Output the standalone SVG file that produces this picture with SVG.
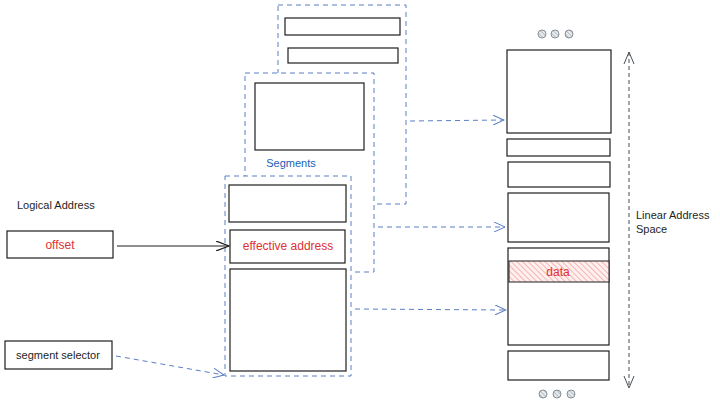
<svg xmlns="http://www.w3.org/2000/svg" width="720" height="404" viewBox="0 0 720 404">
<defs>
<pattern id="hatchRed" patternUnits="userSpaceOnUse" width="4" height="4" patternTransform="rotate(-45)">
<rect width="4" height="4" fill="#fff0f0"/>
<line x1="0" y1="0" x2="0" y2="4" stroke="#f08c8c" stroke-width="1.2"/>
</pattern>
<pattern id="hatchGray" patternUnits="userSpaceOnUse" width="3" height="3" patternTransform="rotate(-45)">
<rect width="3" height="3" fill="#e9ecef"/>
<line x1="0" y1="0" x2="0" y2="3" stroke="#868e96" stroke-width="1"/>
</pattern>
<marker id="arrBlue" markerWidth="12" markerHeight="10" refX="11" refY="5" orient="auto" markerUnits="userSpaceOnUse">
<path d="M0,0 L11,5 L0,10" fill="none" stroke="#5b7fc4" stroke-width="1"/>
</marker>
<marker id="arrBlack" markerWidth="14" markerHeight="10" refX="13" refY="5" orient="auto" markerUnits="userSpaceOnUse">
<path d="M0,0 L13,5 L0,10" fill="none" stroke="#1e1e1e" stroke-width="1.2"/>
</marker>
<marker id="arrGray" markerWidth="10" markerHeight="14" refX="5" refY="1" orient="auto-start-reverse" markerUnits="userSpaceOnUse">
<path d="M0,13 L5,1 L10,13" fill="none" stroke="#495057" stroke-width="1" transform="rotate(0)"/>
</marker>
</defs>
<style>
.box{fill:#ffffff;stroke:#1e1e1e;stroke-width:1.2}
.frame{fill:#ffffff;stroke:#5b7fc4;stroke-width:1;stroke-dasharray:5 4}
.t{font-family:"Liberation Sans",Arial,sans-serif;font-size:11px;fill:#1e1e1e}
.red{fill:#e03131;font-size:12px}
.blue{fill:#1c5fb8}
.conn{fill:none;stroke:#5b7fc4;stroke-width:1;stroke-dasharray:5 4}
.dot{fill:url(#hatchGray);stroke:#868e96;stroke-width:1}
</style>

<g id="segment-back">
<rect class="frame" x="278" y="5" width="128" height="199"/>
<rect class="box" x="285" y="18" width="115" height="17"/>
<rect class="box" x="288" y="48" width="110" height="15"/>
</g>
<g id="segment-middle">
<rect class="frame" x="245" y="73" width="129" height="199"/>
<rect class="box" x="255" y="83" width="109" height="67"/>
<text class="t blue" x="291" y="167" text-anchor="middle">Segments</text>
</g>
<g id="segment-front">
<rect class="frame" x="225" y="176" width="126" height="200"/>
<rect class="box" x="229" y="185" width="117" height="37"/>
<rect class="box" x="230" y="230" width="115" height="33"/>
<text class="t red" x="288" y="250" text-anchor="middle">effective address</text>
<rect class="box" x="230" y="269" width="116" height="102"/>
</g>

<g id="logical-address">
<text class="t" x="17" y="209">Logical Address</text>
</g>
<g id="offset">
<rect class="box" x="7" y="231" width="106" height="27"/>
<text class="t red" x="60" y="249" text-anchor="middle">offset</text>
</g>
<g id="segment-selector">
<rect class="box" x="5" y="341" width="107" height="28"/>
<text class="t" x="58" y="359" text-anchor="middle">segment selector</text>
</g>

<g id="linear-space">
<circle class="dot" cx="542" cy="34" r="4"/>
<circle class="dot" cx="555" cy="34" r="4"/>
<circle class="dot" cx="569" cy="34" r="4"/>
<rect class="box" x="507" y="50" width="104" height="83"/>
<rect class="box" x="507" y="139" width="103" height="17"/>
<rect class="box" x="508" y="162" width="102" height="25"/>
<rect class="box" x="508" y="193" width="101" height="49"/>
<rect class="box" x="508" y="248" width="101" height="97"/>
<rect x="509" y="261" width="100" height="21" fill="url(#hatchRed)" stroke="#1e1e1e" stroke-width="1"/>
<text class="t red" x="558" y="276" text-anchor="middle">data</text>
<rect class="box" x="508" y="351" width="101" height="29"/>
<circle class="dot" cx="543" cy="394" r="4"/>
<circle class="dot" cx="557" cy="394" r="4"/>
<circle class="dot" cx="571" cy="394" r="4"/>
</g>
<g id="linear-label">
<text class="t" x="636" y="219">Linear Address</text>
<text class="t" x="636" y="233">Space</text>
</g>

<g id="connectors">
<line x1="117" y1="246" x2="229" y2="246" stroke="#1e1e1e" stroke-width="1.2" marker-end="url(#arrBlack)"/>
<path class="conn" d="M116,356 L224,375" marker-end="url(#arrBlue)"/>
<path class="conn" d="M410,121 L504,120" marker-end="url(#arrBlue)"/>
<path class="conn" d="M378,227 L505,227" marker-end="url(#arrBlue)"/>
<path class="conn" d="M355,309 L506,310" marker-end="url(#arrBlue)"/>
<line x1="629" y1="52" x2="629" y2="388" stroke="#495057" stroke-width="1" stroke-dasharray="4 3"/>
<path d="M624,64 L629,52 L634,64" fill="none" stroke="#495057" stroke-width="1"/>
<path d="M624,376 L629,388 L634,376" fill="none" stroke="#495057" stroke-width="1"/>
</g>
</svg>
